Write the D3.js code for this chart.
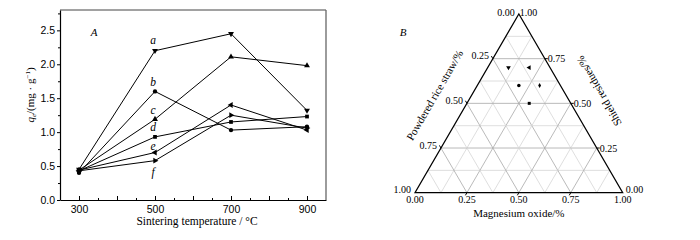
<!DOCTYPE html>
<html>
<head>
<meta charset="utf-8">
<script src="https://cdn.jsdelivr.net/npm/d3@7"></script>
<style>
  body { margin: 0; background: #fff; }
  svg { display: block; font-family: "Liberation Serif", "DejaVu Serif", serif; }
</style>
</head>
<body>
<div id="chart"></div>
<script>
// panel A data
const temps = [300, 500, 700, 900];
const seriesNames = ["a", "b", "c", "d", "e", "f"];
const qA = [0.45, 2.20, 2.45, 1.32];
const qB = [0.40, 1.60, 1.03, 1.08];
const qC = [0.44, 1.19, 2.11, 1.98];
const qD = [0.43, 0.93, 1.15, 1.23];
const qE = [0.44, 0.70, 1.40, 1.03];
const qF = [0.43, 0.58, 1.25, 1.06];
const labelQ = [2.36, 1.74, 1.33, 1.08, 0.80, 0.42]; // label heights at 500 °C
const yTicks = [0, 0.5, 1.0, 1.5, 2.0, 2.5];
const xTickLabels = [300, 500, 700, 900];

// panel B data (magnesium oxide, powdered rice straw, shield residues)
const ternMgO = [0.1, 0.2, 0.2, 0.3, 0.3];
const ternStraw = [0.2, 0.1, 0.2, 0.1, 0.2];
const ternShield = [0.7, 0.7, 0.6, 0.6, 0.5];
const ternMarks = ["a", "e", "b", "f", "d"];
const ternTicks = [0, 0.25, 0.5, 0.75, 1];

const series = [qA, qB, qC, qD, qE, qF];

const svg = d3.select("#chart").append("svg")
    .attr("width", 700)
    .attr("height", 240);

// marker shapes per series
function marker(name) {
    const tri = d3.symbol().type(d3.symbolTriangle).size(15)();
    const shapes = {
        a: { d: tri, r: 180 },
        b: { d: d3.symbol().type(d3.symbolCircle).size(15)(), r: 0 },
        c: { d: tri, r: 0 },
        d: { d: d3.symbol().type(d3.symbolSquare).size(14)(), r: 0 },
        e: { d: tri, r: -90 },
        f: { d: tri, r: 90 }
    };
    return shapes[name];
}

// ---------- panel A ----------
const mA = { left: 60, right: 326, top: 10, bottom: 200 };

const x = d3.scaleLinear().domain([250, 950]).range([mA.left, mA.right]);
const y = d3.scaleLinear().domain([0, 2.8]).range([mA.bottom, mA.top]);

// frame
svg.append("line").attr("x1", mA.left).attr("x2", mA.right).attr("y1", mA.top).attr("y2", mA.top)
    .attr("stroke", "#444").attr("stroke-width", 1);
svg.append("line").attr("x1", mA.right).attr("x2", mA.right).attr("y1", mA.top).attr("y2", mA.bottom)
    .attr("stroke", "#666").attr("stroke-width", 1.3);

// minor ticks
svg.append("g")
    .attr("transform", `translate(0,${mA.bottom})`)
    .call(d3.axisBottom(x).tickValues(d3.range(300, 950, 50)).tickSize(-2).tickFormat(""))
    .call(g => g.select(".domain").remove());
svg.append("g")
    .attr("transform", `translate(${mA.left},0)`)
    .call(d3.axisLeft(y).tickValues(d3.range(0.25, 2.8, 0.5)).tickSize(2).tickFormat(""))
    .call(g => g.select(".domain").remove());

// x axis
svg.append("g")
    .attr("transform", `translate(0,${mA.bottom})`)
    .call(d3.axisBottom(x).tickValues(d3.range(300, 901, 100)).tickSizeInner(-4).tickSizeOuter(0)
        .tickPadding(6).tickFormat(d => xTickLabels.includes(d) ? d : ""))
    .call(g => g.selectAll("text").attr("font-size", 10.5).attr("font-family", null))
    .call(g => g.select(".domain").attr("stroke-width", 1.2));

// y axis
svg.append("g")
    .attr("transform", `translate(${mA.left},0)`)
    .call(d3.axisLeft(y).tickValues(yTicks).tickSizeInner(3).tickSizeOuter(0)
        .tickPadding(2).tickFormat(d3.format(".1f")))
    .call(g => g.selectAll("text").attr("font-size", 10.5).attr("font-family", null))
    .call(g => g.select(".domain").attr("stroke-width", 1.2));

const line = d3.line().x((d, i) => x(temps[i])).y(d => y(d));

series.forEach((vals, si) => {
    svg.append("path")
        .datum(vals)
        .attr("d", line)
        .attr("fill", "none")
        .attr("stroke", "#000")
        .attr("stroke-width", 1);
    const m = marker(seriesNames[si]);
    svg.selectAll(null)
        .data(vals)
        .join("path")
        .attr("d", m.d)
        .attr("transform", (d, i) => `translate(${x(temps[i])},${y(d)}) rotate(${m.r})`)
        .attr("fill", "#000");
});

// series labels
svg.selectAll(null)
    .data(seriesNames)
    .join("text")
    .attr("x", x(500) - 2)
    .attr("y", (d, i) => y(labelQ[i]))
    .attr("dy", "0.35em")
    .attr("text-anchor", "middle")
    .attr("font-size", 11.5)
    .attr("font-style", "italic")
    .text(d => d);

svg.append("text")
    .attr("x", 94).attr("y", 32).attr("dy", "0.35em")
    .attr("text-anchor", "middle")
    .attr("font-size", 11).attr("font-style", "italic")
    .text("A");

// axis titles
svg.append("text")
    .attr("x", 197).attr("y", 225)
    .attr("text-anchor", "middle")
    .attr("font-size", 11.5)
    .text("Sintering temperature / °C");

const yl = svg.append("text")
    .attr("transform", "translate(34,95) rotate(-90)")
    .attr("text-anchor", "middle")
    .attr("font-size", 11);
yl.append("tspan").attr("font-style", "italic").text("q");
yl.append("tspan").attr("font-size", 7).attr("font-style", "italic").attr("dy", 2).text("e");
yl.append("tspan").attr("dy", -2).text("/(mg · g");
yl.append("tspan").attr("font-size", 7).attr("dy", -4).text("−1");
yl.append("tspan").attr("dy", 4).text(")");

// ---------- panel B (ternary) ----------
const tx = d3.scaleLinear().domain([0, 1]).range([415, 622.7]);
const ty = d3.scaleLinear().domain([0, 1]).range([192.7, 14]);
const pos = (m, s) => [tx(m + s / 2), ty(s)];

const tern = svg.append("g");

// grid lines at 1/8 steps
d3.range(1, 8).forEach(k => {
    const v = k / 8;
    const col = k % 2 === 0 ? "#a8a8a8" : "#d6d6d6";
    const segs = [
        [pos(0, v), pos(1 - v, v)],            // constant shield residues
        [pos(0, 1 - v), pos(1 - v, 0)],        // constant rice straw
        [pos(v, 1 - v), pos(v, 0)]             // constant magnesium oxide
    ];
    segs.forEach(s => {
        tern.append("line")
            .attr("x1", s[0][0]).attr("y1", s[0][1])
            .attr("x2", s[1][0]).attr("y2", s[1][1])
            .attr("stroke", col).attr("stroke-width", 0.8);
    });
});

// outline
tern.append("path")
    .attr("d", d3.line()([pos(0, 0), pos(1, 0), pos(0, 1)]) + "Z")
    .attr("fill", "none").attr("stroke", "#000").attr("stroke-width", 1.2);

// ticks
ternTicks.slice(1, 4).forEach(v => {
    const r = pos(1 - v, v);
    tern.append("line").attr("x1", r[0]).attr("y1", r[1]).attr("x2", r[0] + 3).attr("y2", r[1])
        .attr("stroke", "#000");
    const l = pos(0, 1 - v);
    tern.append("line").attr("x1", l[0]).attr("y1", l[1]).attr("x2", l[0] - 1.5).attr("y2", l[1] - 2.6)
        .attr("stroke", "#000");
    const b = pos(v, 0);
    tern.append("line").attr("x1", b[0]).attr("y1", b[1]).attr("x2", b[0] - 1.5).attr("y2", b[1] + 2.6)
        .attr("stroke", "#000");
});

const fmt = d3.format(".2f");

// left axis labels (rice straw: 0 at apex)
tern.selectAll(null)
    .data(ternTicks)
    .join("text")
    .attr("x", d => pos(0, 1 - d)[0] - 4)
    .attr("y", d => pos(0, 1 - d)[1] - (d === 0 ? 2 : 3))
    .attr("dy", "0.35em")
    .attr("text-anchor", "end")
    .attr("font-size", 10)
    .text(fmt);

// right axis labels (shield residues)
tern.selectAll(null)
    .data(ternTicks)
    .join("text")
    .attr("x", d => pos(1 - d, d)[0] + (d === 1 ? 1 : 3))
    .attr("y", d => pos(1 - d, d)[1] - (d === 1 ? 2 : d === 0 ? 3 : 0))
    .attr("dy", "0.35em")
    .attr("text-anchor", "start")
    .attr("font-size", 10)
    .text(fmt);

// bottom axis labels (magnesium oxide)
tern.selectAll(null)
    .data(ternTicks)
    .join("text")
    .attr("x", d => pos(d, 0)[0])
    .attr("y", ty(0) + 3.5)
    .attr("dy", "0.71em")
    .attr("text-anchor", "middle")
    .attr("font-size", 10)
    .text(fmt);

// axis titles
tern.append("text")
    .attr("x", tx(0.5)).attr("y", 216.5)
    .attr("text-anchor", "middle").attr("font-size", 11)
    .text("Magnesium oxide/%");
tern.append("text")
    .attr("transform", "translate(438,97) rotate(-60)")
    .attr("text-anchor", "middle").attr("font-size", 11)
    .text("Powdered rice straw/%");
tern.append("text")
    .attr("transform", "translate(599,91) rotate(-120)")
    .attr("text-anchor", "middle").attr("dy", "0.35em").attr("font-size", 11)
    .text("Shield residues/%");
tern.append("text")
    .attr("x", 403).attr("y", 32).attr("dy", "0.35em")
    .attr("text-anchor", "middle")
    .attr("font-size", 11).attr("font-style", "italic")
    .text("B");

// points
tern.selectAll(null)
    .data(ternMarks)
    .join("path")
    .attr("d", d => d === "f"
        ? d3.symbol().type(d3.symbolDiamond).size(11)()
        : marker(d).d)
    .attr("transform", (d, i) => {
        const p = pos(ternMgO[i], ternShield[i]);
        const m = marker(d);
        return `translate(${p[0]},${p[1]}) rotate(${d === "f" ? 0 : m.r}) scale(0.8)`;
    })
    .attr("fill", "#000");
</script>
</body>
</html>
